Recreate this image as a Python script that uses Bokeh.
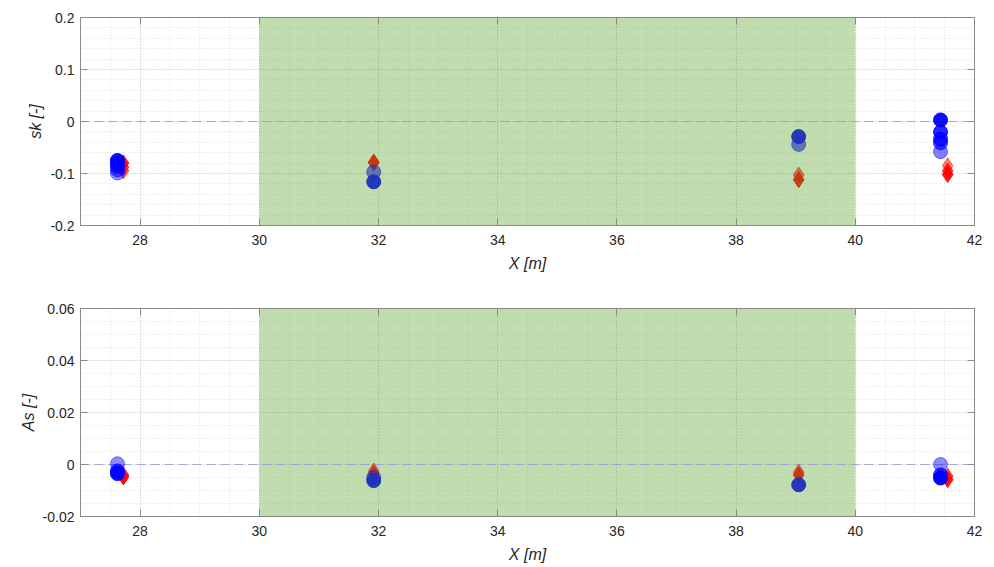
from bokeh.plotting import figure
from bokeh.layouts import column
from bokeh.models import (Range1d, SingleIntervalTicker, LinearAxis, BoxAnnotation,
                          Span, CustomJSTickFormatter, ColumnDataSource)
from bokeh.embed import file_html
from bokeh.resources import INLINE

# ---------------- data ----------------
x_limits = (27, 42)
band_left, band_right = 30, 40

# top panel: skewness sk [-]
sk_limits = (-0.2, 0.2)
sk_circle_x = [27.62, 27.62, 27.62, 27.62, 27.62, 31.92, 31.92, 39.05, 39.05,
               41.43, 41.43, 41.43, 41.43, 41.43]
sk_circle_y = [-0.099, -0.093, -0.086, -0.080, -0.075, -0.097, -0.116, -0.044, -0.029,
               -0.058, -0.041, -0.034, -0.020, 0.003]
sk_diamond_x = [27.72, 27.72, 27.72, 31.92, 31.92, 39.05, 39.05, 41.55, 41.55, 41.55]
sk_diamond_y = [-0.095, -0.088, -0.080, -0.080, -0.078, -0.103, -0.112, -0.085, -0.095, -0.102]

# bottom panel: asymmetry As [-]
as_limits = (-0.02, 0.06)
as_circle_x = [27.62, 27.62, 27.62, 31.92, 31.92, 39.05, 41.43, 41.43, 41.43]
as_circle_y = [0.0003, -0.0025, -0.0035, -0.0050, -0.0062, -0.0078, 0.0000, -0.0040, -0.0052]
as_diamond_x = [27.72, 27.72, 31.92, 31.92, 39.05, 39.05, 41.55, 41.55]
as_diamond_y = [-0.0040, -0.0048, -0.0025, -0.0035, -0.0030, -0.0040, -0.0045, -0.0058]

# ---------------- styles ----------------
BLUE, DBLUE = "#0000ff", "#1c30bb"
RED, DRED = "#ff0000", "#c8320a"
sk_circle_color = [BLUE] * 5 + [DBLUE] * 4 + [BLUE] * 5
sk_circle_alpha = [0.45, 0.6, 0.75, 0.85, 0.95, 0.6, 0.95, 0.6, 0.95, 0.5, 0.7, 0.8, 0.85, 0.95]
sk_diamond_color = [RED] * 3 + [DRED] * 4 + [RED] * 3
sk_diamond_alpha = [0.6, 0.75, 0.9, 0.6, 0.9, 0.6, 0.9, 0.5, 0.75, 0.9]
as_circle_color = [BLUE] * 3 + [DBLUE] * 3 + [BLUE] * 3
as_circle_alpha = [0.45, 0.8, 0.95, 0.6, 0.95, 0.95, 0.45, 0.8, 0.95]
as_diamond_color = [RED] * 2 + [DRED] * 4 + [RED] * 2
as_diamond_alpha = [0.7, 0.9, 0.6, 0.9, 0.6, 0.9, 0.7, 0.9]

FONT = "Liberation Sans"
fmt = CustomJSTickFormatter(code="return Number(tick.toFixed(5)).toString();")
blank_fmt = CustomJSTickFormatter(code="return '';")


def style_axis(ax, show_labels=True):
    ax.axis_line_color = "#8a8a8a"
    ax.major_tick_line_color = "#8a8a8a"
    ax.major_tick_in = 7
    ax.major_tick_out = 0
    ax.minor_tick_in = 0
    ax.minor_tick_out = 0
    ax.major_label_text_font = FONT
    ax.major_label_text_color = "#262626"
    ax.major_label_text_font_size = "14px"
    ax.axis_label_text_font = FONT
    ax.axis_label_text_color = "#262626"
    ax.axis_label_text_font_style = "italic"
    ax.axis_label_text_font_size = "16px"
    if show_labels:
        ax.formatter = fmt
    else:
        ax.formatter = blank_fmt
        ax.major_label_standoff = 0


def make_panel(ylim, yint, ynminor, ylabel, cx, cy, ccol, calpha, dx, dy, dcol, dalpha,
               top, bottom):
    p = figure(frame_width=894, frame_height=208,
               x_range=Range1d(*x_limits), y_range=Range1d(*ylim),
               output_backend="svg", toolbar_location=None,
               min_border_left=80, min_border_right=14,
               min_border_top=top, min_border_bottom=bottom,
               background_fill_color="white", border_fill_color="white")
    p.outline_line_color = "#8a8a8a"
    xt = SingleIntervalTicker(interval=2, num_minor_ticks=4)
    yt = SingleIntervalTicker(interval=yint, num_minor_ticks=ynminor)
    p.xaxis.ticker = xt
    p.yaxis.ticker = yt
    p.xgrid.ticker = xt
    p.ygrid.ticker = yt
    style_axis(p.xaxis[0])
    style_axis(p.yaxis[0])
    p.xaxis.axis_label = "X [m]"
    p.yaxis.axis_label = ylabel
    p.xaxis.major_label_standoff = 9
    p.xaxis.axis_label_standoff = 7
    p.yaxis.major_label_standoff = 6
    p.yaxis.axis_label_standoff = 3

    ra = LinearAxis(ticker=yt)
    style_axis(ra, show_labels=False)
    p.add_layout(ra, "right")
    ta = LinearAxis(ticker=xt)
    style_axis(ta, show_labels=False)
    p.add_layout(ta, "above")

    for g in (p.xgrid, p.ygrid):
        g.grid_line_color = "#9a9a9a"
        g.grid_line_alpha = 0.45
        g.grid_line_dash = "1 2"
        g.minor_grid_line_color = "#b0b0b0"
        g.minor_grid_line_alpha = 0.35
        g.minor_grid_line_dash = "1 2"

    box = BoxAnnotation(left=band_left, right=band_right, fill_color="#64aa39",
                        fill_alpha=0.4, line_alpha=0, level="underlay")
    p.add_layout(box)
    zero = Span(location=0, dimension="width", line_color="#9a9ade", line_alpha=0.85,
                line_dash="9 5", line_width=1, level="underlay")
    p.add_layout(zero)

    dsrc = ColumnDataSource(dict(x=dx, y=dy, c=dcol, a=dalpha))
    p.scatter("x", "y", source=dsrc, marker="diamond", size=16, fill_color="c",
              line_color="c", fill_alpha="a", line_alpha="a")
    csrc = ColumnDataSource(dict(x=cx, y=cy, c=ccol, a=calpha))
    p.scatter("x", "y", source=csrc, marker="circle", size=14, fill_color="c",
              line_color="c", fill_alpha="a", line_alpha="a")
    return p


p1 = make_panel(sk_limits, 0.1, 5, "sk [-]", sk_circle_x, sk_circle_y, sk_circle_color,
                sk_circle_alpha, sk_diamond_x, sk_diamond_y, sk_diamond_color,
                sk_diamond_alpha, top=17, bottom=57)
p2 = make_panel(as_limits, 0.02, 4, "As [-]", as_circle_x, as_circle_y, as_circle_color,
                as_circle_alpha, as_diamond_x, as_diamond_y, as_diamond_color,
                as_diamond_alpha, top=26, bottom=47)

layout = column(p1, p2, spacing=0)
open("out.html", "w").write(file_html(layout, INLINE))
